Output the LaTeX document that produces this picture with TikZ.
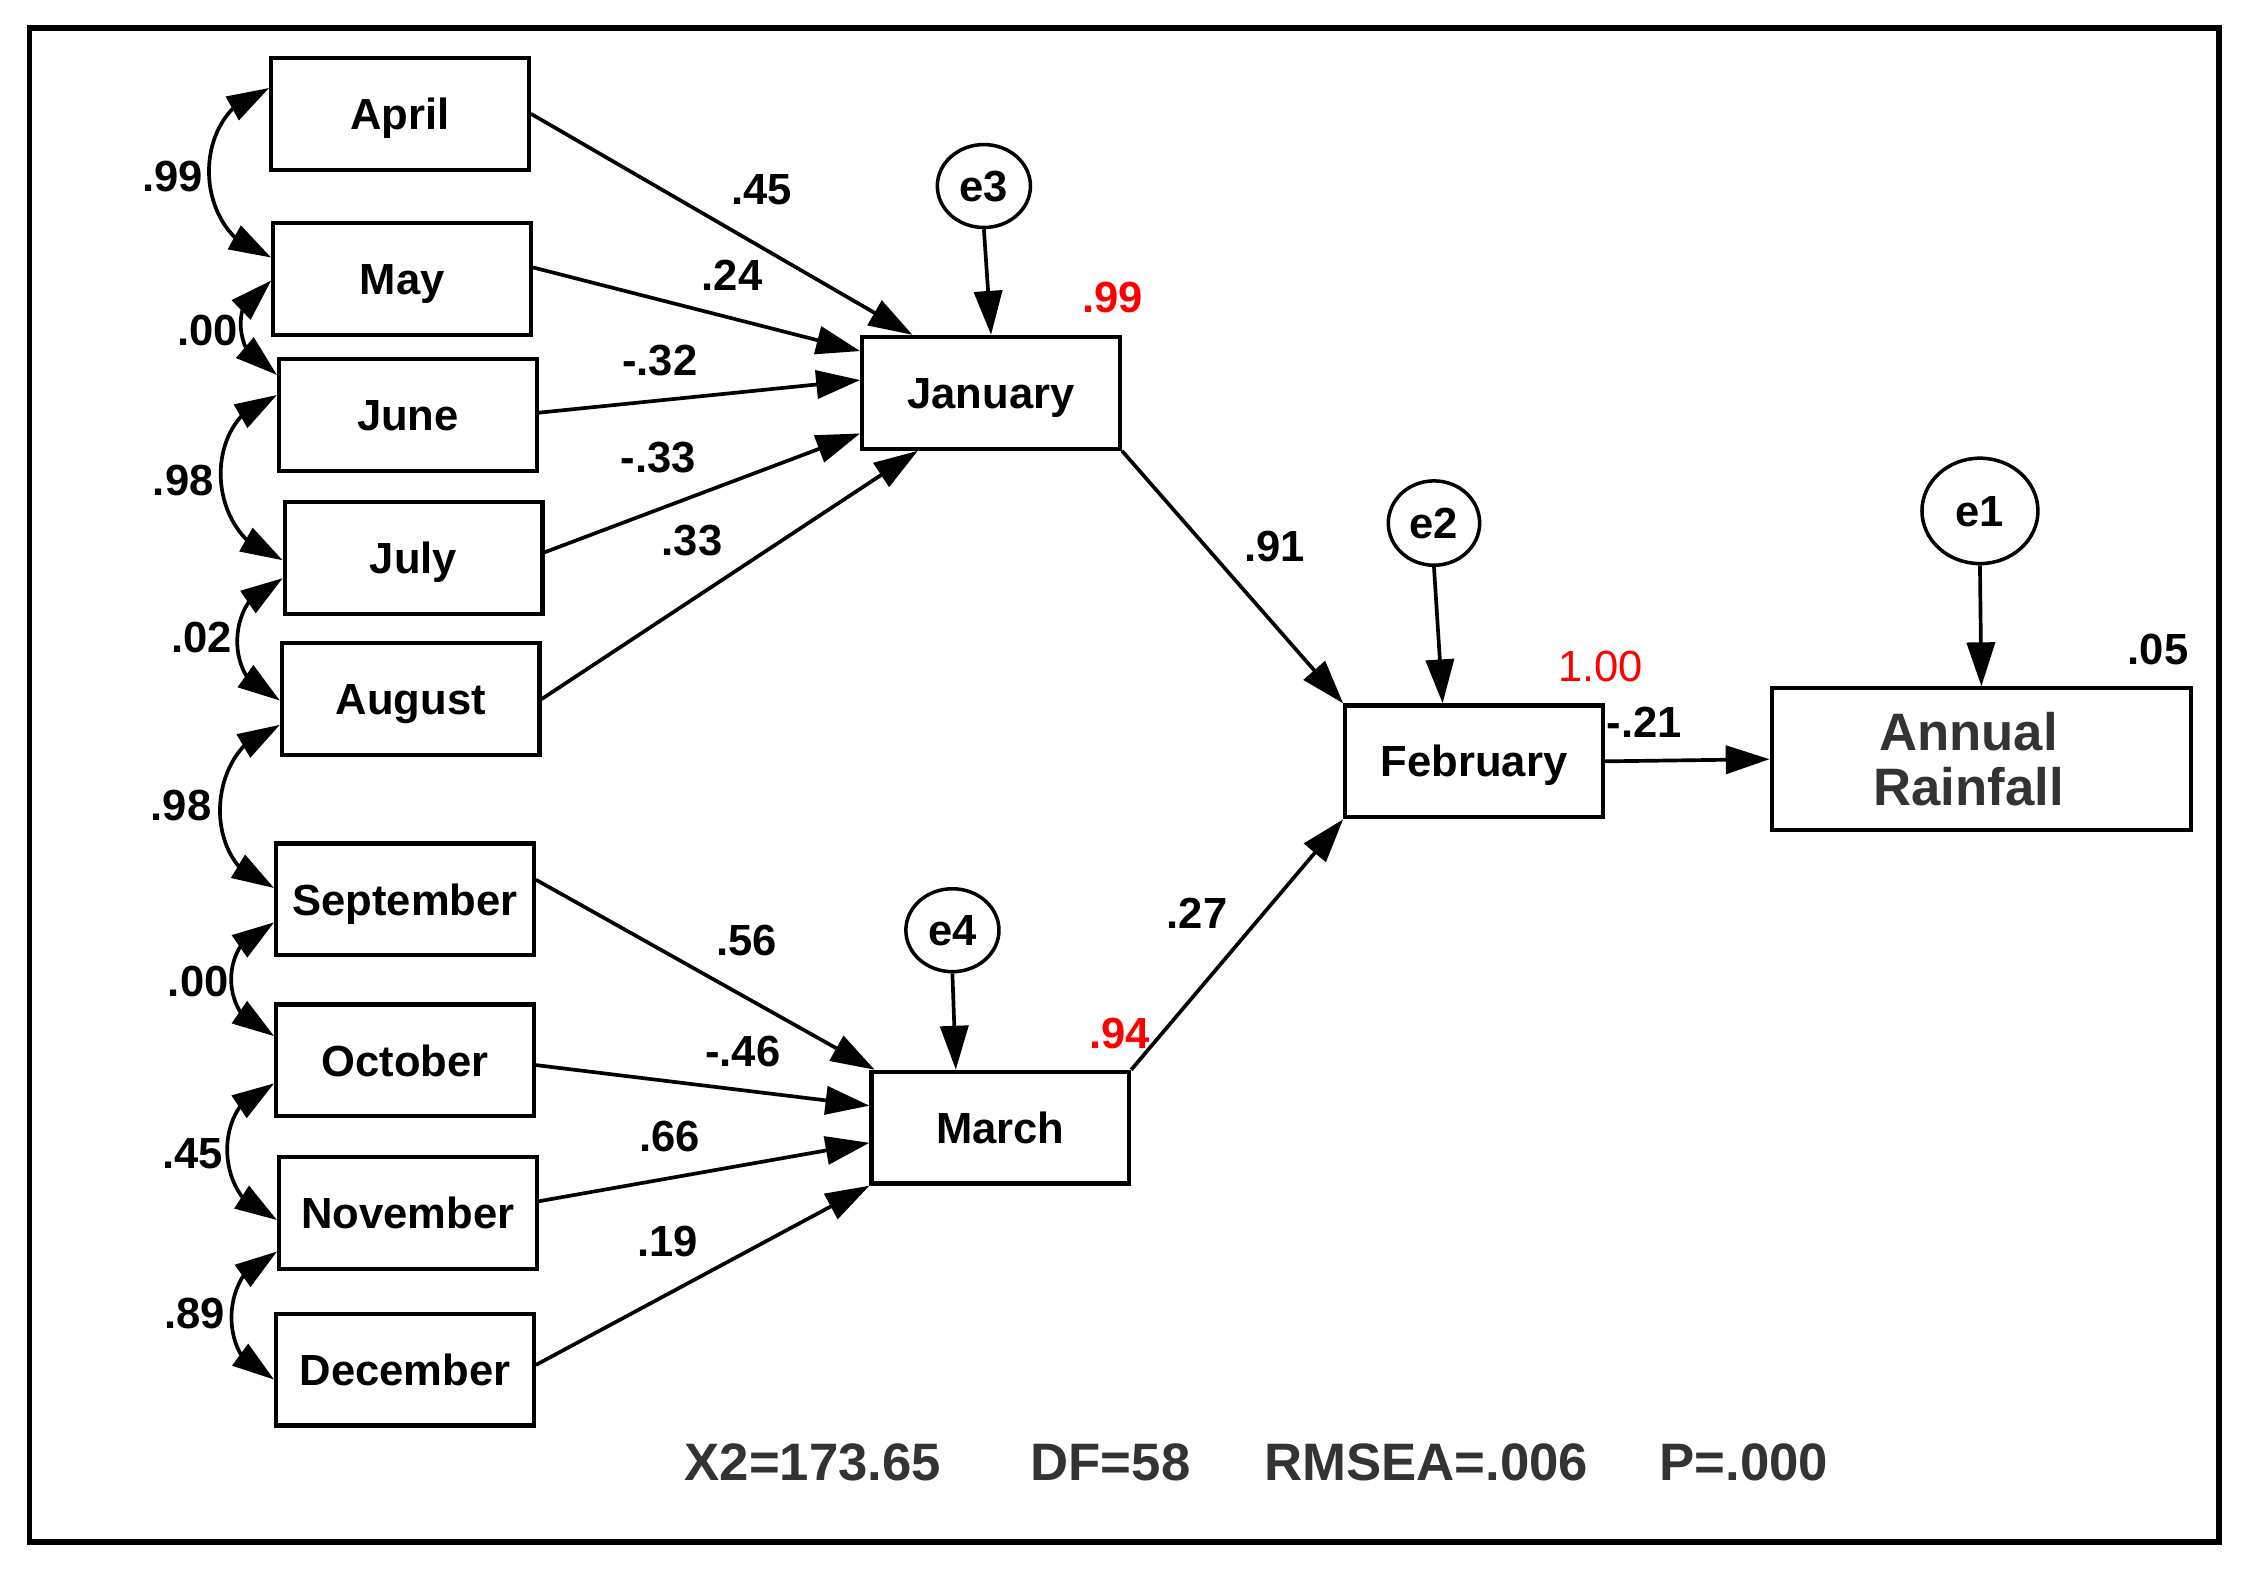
\documentclass[tikz,border=0pt]{standalone}
\usepackage{fontspec}
\setmainfont{Liberation Sans}
\usetikzlibrary{arrows.meta,shapes.geometric,calc,bending}
\definecolor{labred}{RGB}{255,0,0}
\definecolor{fitgray}{RGB}{51,51,51}
\begin{document}
\begin{tikzpicture}[x=0.014311cm,y=-0.014311cm,
  txt/.style={font=\fontsize{12.4}{14}\selectfont\bfseries},
  box/.style={txt, draw=black, line width=1.2pt, minimum width=73.3pt, minimum height=31.8pt, inner sep=0pt, text height=8.9pt, text depth=0pt},
  err/.style={txt, draw=black, ellipse, line width=1pt, inner sep=0pt, minimum width=26.5pt, minimum height=23.6pt, text height=8.9pt, text depth=0pt},
  lab/.style={txt, inner sep=0pt},
  rlab/.style={lab, text=labred},
  reg/.style={line width=1.05pt, -{Triangle[length=12.5pt,width=8pt]}},
  cov/.style={line width=1.05pt, {Triangle[length=12pt,width=7.5pt]}-{Triangle[length=12pt,width=7.5pt]}},
  fitstat/.style={inner sep=0pt, text=fitgray, font=\fontsize{15}{18}\selectfont\bfseries}
]
\useasboundingbox (0,0) rectangle (1568,1098);
\draw[line width=1.6pt] (20.5,19.5) rectangle (1550.5,1077.5);

% observed variables
\node[box] (apr) at (279.5,79.5) {April};
\node[box] (may) at (281,195) {May};
\node[box] (jun) at (285,290) {June};
\node[box] (jul) at (289,390) {July};
\node[box] (aug) at (287,488.5) {August};
\node[box] (sep) at (283,628.5) {September};
\node[box] (oct) at (283,741) {October};
\node[box] (nov) at (285,847.5) {November};
\node[box] (dec) at (283,957) {December};
\node[box] (jan) at (692.5,274.5) {January};
\node[box] (mar) at (699,788) {March};
\node[box] (feb) at (1030,532) {February};
\node[draw=black, line width=1.2pt, inner sep=0pt, minimum width=119.3pt, minimum height=40.3pt, align=center, text=fitgray,
      font=\fontsize{15}{15.5}\selectfont\bfseries] (ann) at (1384.5,530.5) {Annual\kern7.3pt\\Rainfall\kern7.3pt};

% error terms
\node[err] (e3) at (687.5,130) {e3};
\node[err] (e4) at (665.5,650) {e4};
\node[err, minimum width=26pt, minimum height=24pt] (e2) at (1002,365.5) {e2};
\node[err, minimum width=33pt, minimum height=30pt] (e1) at (1383.5,357) {e1};

% regression paths to January
\draw[reg] (apr.east) -- ($(jan.north west)!0.2!(jan.north east)$);
\draw[reg] ($(may.north east)!0.4!(may.south east)$) -- ($(jan.north west)!0.14!(jan.south west)$);
\draw[reg] ($(jun.north east)!0.48!(jun.south east)$) -- ($(jan.north west)!0.39!(jan.south west)$);
\draw[reg] ($(jul.north east)!0.45!(jul.south east)$) -- ($(jan.north west)!0.85!(jan.south west)$);
\draw[reg] (aug.east) -- ($(jan.south west)!0.22!(jan.south east)$);

% regression paths to March
\draw[reg] ($(sep.north east)!0.33!(sep.south east)$) -- ($(mar.north west)!0.02!(mar.north east)$);
\draw[reg] ($(oct.north east)!0.54!(oct.south east)$) -- ($(mar.north west)!0.31!(mar.south west)$);
\draw[reg] ($(nov.north east)!0.4!(nov.south east)$) -- ($(mar.north west)!0.63!(mar.south west)$);
\draw[reg] ($(dec.north east)!0.46!(dec.south east)$) -- (mar.south west);

% structural paths
\draw[reg] (jan.south east) -- (feb.north west);
\draw[reg] (mar.north east) -- (feb.south west);
\draw[reg] (feb.east) -- (ann.west);

% error paths
\draw[reg] (e3.south) -- (jan.north);
\draw[reg] (e4.south) -- ($(mar.north west)!0.33!(mar.north east)$);
\draw[reg] (e2.south) -- ($(feb.north west)!0.38!(feb.north east)$);
\draw[reg] (e1.south) -- (ann.north);

% covariances
\draw[cov] ($(apr.west)+(0,-18)$) .. controls +(-57,14) and +(-57,-14) .. ($(may.west)+(0,-15)$);
\draw[cov] ($(may.west)+(0,1)$) .. controls +(-31,8) and +(-31,-8) .. ($(jun.west)+(0,-28)$);
\draw[cov] ($(jun.west)+(0,-14)$) .. controls +(-55,14) and +(-55,-14) .. ($(jul.west)+(0,1.5)$);
\draw[cov] ($(jul.west)+(0,14)$) .. controls +(-41,10) and +(-41,-10) .. ($(aug.west)+(0,1)$);
\draw[cov] ($(aug.west)+(0,18)$) .. controls +(-53,13) and +(-53,-13) .. ($(sep.west)+(0,-8)$);
\draw[cov] ($(sep.west)+(0,16)$) .. controls +(-40,10) and +(-40,-10) .. ($(oct.west)+(0,-17)$);
\draw[cov] ($(oct.west)+(0,16)$) .. controls +(-45,11) and +(-45,-11) .. ($(nov.west)+(0,5)$);
\draw[cov] ($(nov.west)+(0,27)$) .. controls +(-41,10) and +(-41,-10) .. ($(dec.west)+(0,7)$);

% covariance labels
\node[lab] (c1) at (120.5,123) {.99};
\node[lab] (c2) at (145,231) {.00};
\node[lab] (c3) at (128,336) {.98};
\node[lab] (c4) at (141,445.5) {.02};
\node[lab] (c5) at (126.5,563) {.98};
\node[lab] (c6) at (138.5,685.5) {.00};
\node[lab] (c7) at (134.5,806.5) {.45};
\node[lab] (c8) at (136,918) {.89};

% path coefficient labels
\node[lab] (l1) at (532,132.5) {.45};
\node[lab] (l2) at (511.5,192.5) {.24};
\node[lab] (l3) at (461,252) {-.32};
\node[lab] (l4) at (460,320) {-.33};
\node[lab] (l5) at (483.5,378) {.33};
\node[lab] (l6) at (521.5,657) {.56};
\node[lab] (l7) at (519,735) {-.46};
\node[lab] (l8) at (468,794) {.66};
\node[lab] (l9) at (466.5,867.5) {.19};
\node[lab] (l10) at (890.5,382) {.91};
\node[lab] (l11) at (836.5,638) {.27};
\node[lab] (l12) at (1149,505) {-.21};

% squared multiple correlations
\node[rlab] (r1) at (777.5,208) {.99};
\node[rlab] (r2) at (782.5,722) {.94};
\node[rlab, font=\fontsize{12.4}{14}\selectfont\mdseries] (r3) at (1118.5,466) {1.00};
\node[lab] (r4) at (1508,454) {.05};

% fit statistics
\node[fitstat] (f1) at (568,1022) {X2=173.65};
\node[fitstat] (f2) at (776,1022) {DF=58};
\node[fitstat] (f3) at (996.5,1022) {RMSEA=.006};
\node[fitstat] (f4) at (1218.5,1022) {P=.000};
\end{tikzpicture}
\end{document}
